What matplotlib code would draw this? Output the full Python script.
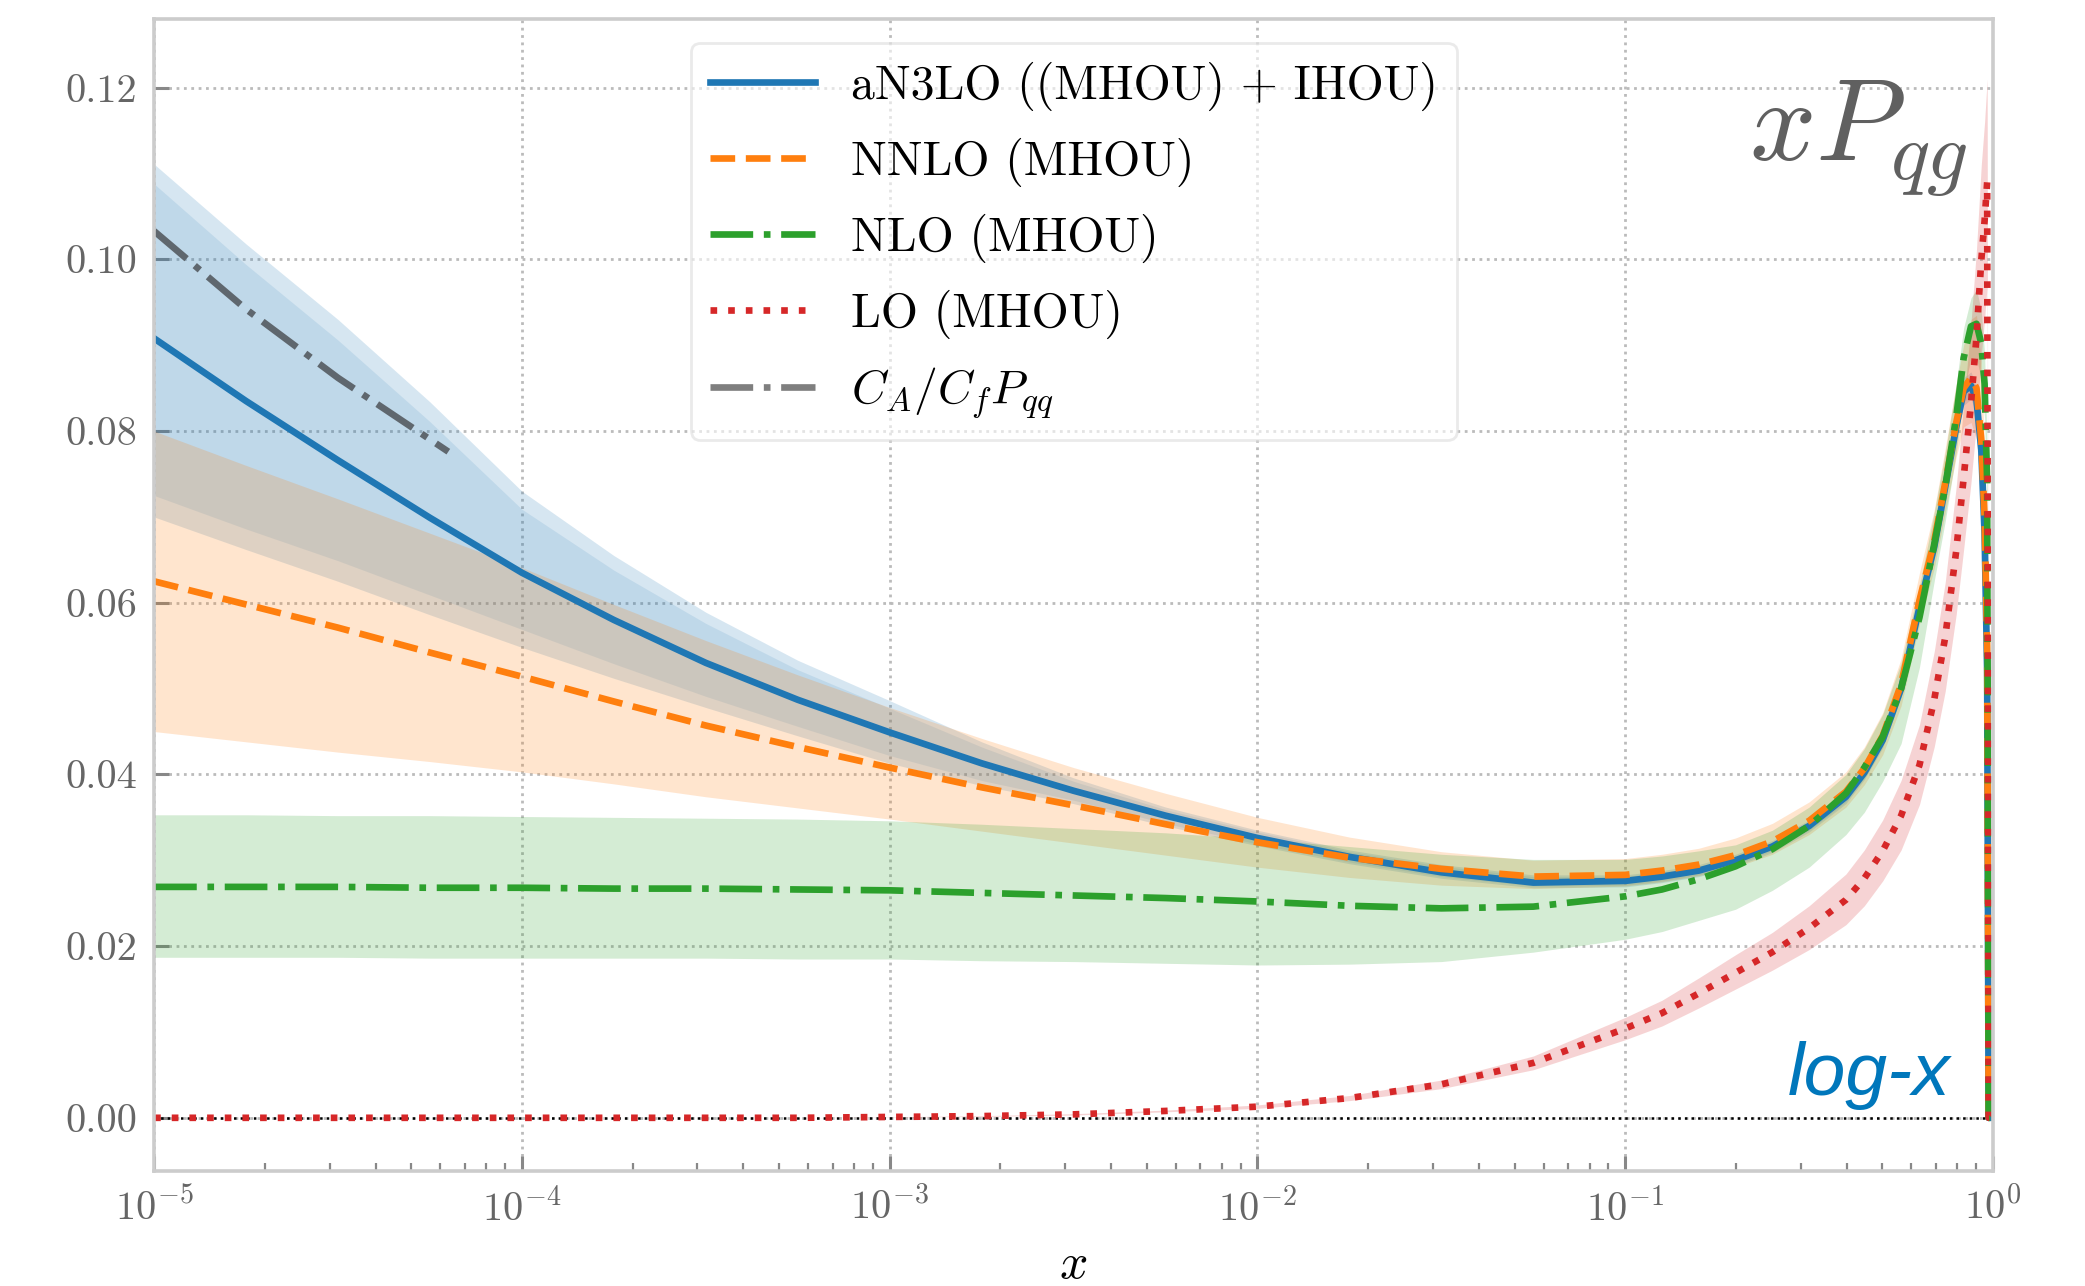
import numpy as np
import matplotlib
matplotlib.use("Agg")
import matplotlib.pyplot as plt
from matplotlib.lines import Line2D

plt.rcParams.update({
    "font.family": "serif",
    "font.serif": ["cmr10"],
    "mathtext.fontset": "cm",
    "axes.formatter.use_mathtext": True,
    "axes.unicode_minus": False,
})

# common grid, log10(x)
log_x = np.array([-5, -4.75, -4.5, -4.25, -4, -3.75, -3.5, -3.25, -3, -2.75, -2.5, -2.25,
                  -2, -1.75, -1.5, -1.25,
                  -1, -0.9, -0.8, -0.7, -0.6, -0.5, -0.4, -0.35, -0.3, -0.25, -0.2, -0.16,
                  -0.13, -0.1, -0.08, -0.06, -0.045, -0.032, -0.023, -0.016, -0.012, 0])

# aN3LO ((MHOU) + IHOU)
n3lo = [0.0908, 0.0835, 0.0766, 0.0699, 0.0635, 0.0580, 0.0530, 0.0487, 0.0449, 0.0413,
        0.0381, 0.0352, 0.0326, 0.0304, 0.0286, 0.0274,
        0.0276, 0.0281, 0.0288, 0.0300, 0.0316, 0.0340, 0.0374, 0.0402, 0.0440, 0.0500,
        0.0595, 0.0665, 0.0735, 0.0805, 0.0846, 0.0853, 0.0836, 0.0778, 0.0681, 0.0520,
        0.0, 0.0]
n3lo_up_out = [0.1111, 0.1018, 0.0930, 0.0834, 0.0730, 0.0655, 0.0589, 0.0533, 0.0486,
               0.0438, 0.0396, 0.0362, 0.0335, 0.0312, 0.0295, 0.0283,
               0.0283, 0.0288, 0.0295, 0.0307, 0.0323, 0.0347, 0.0382, 0.0410, 0.0449,
               0.0510, 0.0606, 0.0677, 0.0748, 0.0820, 0.0862, 0.0869, 0.0852, 0.0794,
               0.0697, 0.0536, 0.0, 0.0]
n3lo_lo_out = [0.0700, 0.0662, 0.0625, 0.0586, 0.0548, 0.0512, 0.0478, 0.0445, 0.0413,
               0.0387, 0.0366, 0.0340, 0.0317, 0.0296, 0.0279, 0.0268,
               0.0269, 0.0274, 0.0281, 0.0293, 0.0309, 0.0333, 0.0366, 0.0394, 0.0431,
               0.0490, 0.0584, 0.0653, 0.0722, 0.0790, 0.0830, 0.0837, 0.0820, 0.0762,
               0.0665, 0.0504, 0.0, 0.0]
n3lo_up_in = [0.1088, 0.0994, 0.0906, 0.0811, 0.0709, 0.0638, 0.0576, 0.0522, 0.0477,
              0.0432, 0.0392, 0.0359, 0.0333, 0.0310, 0.0293, 0.0281,
              0.0281, 0.0286, 0.0293, 0.0305, 0.0321, 0.0345, 0.0380, 0.0408, 0.0447,
              0.0507, 0.0603, 0.0674, 0.0745, 0.0816, 0.0858, 0.0865, 0.0848, 0.0790,
              0.0693, 0.0532, 0.0, 0.0]
n3lo_lo_in = [0.0725, 0.0686, 0.0649, 0.0609, 0.0569, 0.0529, 0.0491, 0.0456, 0.0422,
              0.0393, 0.0370, 0.0343, 0.0319, 0.0298, 0.0281, 0.0270,
              0.0271, 0.0276, 0.0283, 0.0295, 0.0311, 0.0335, 0.0368, 0.0396, 0.0433,
              0.0493, 0.0587, 0.0656, 0.0725, 0.0794, 0.0834, 0.0841, 0.0824, 0.0766,
              0.0669, 0.0508, 0.0, 0.0]

# NNLO (MHOU)
nnlo = [0.0625, 0.0598, 0.0571, 0.0542, 0.0514, 0.0485, 0.0457, 0.0432, 0.0408, 0.0385,
        0.0364, 0.0342, 0.0321, 0.0303, 0.0290, 0.0281,
        0.0283, 0.0288, 0.0295, 0.0306, 0.0322, 0.0346, 0.0380, 0.0407, 0.0445, 0.0505,
        0.0603, 0.0672, 0.0740, 0.0810, 0.0850, 0.0862, 0.0850, 0.0790, 0.0700, 0.0550,
        0.0, 0.0]
nnlo_up = [0.0800, 0.0760, 0.0721, 0.0681, 0.0641, 0.0598, 0.0556, 0.0516, 0.0478, 0.0442,
           0.0408, 0.0378, 0.0350, 0.0327, 0.0310, 0.0300,
           0.0302, 0.0307, 0.0314, 0.0326, 0.0343, 0.0368, 0.0403, 0.0432, 0.0472, 0.0535,
           0.0635, 0.0708, 0.0780, 0.0855, 0.0900, 0.0930, 0.0935, 0.0880, 0.0780, 0.0610,
           0.0, 0.0]
nnlo_lo = [0.0450, 0.0438, 0.0426, 0.0415, 0.0403, 0.0389, 0.0374, 0.0361, 0.0348, 0.0334,
           0.0320, 0.0306, 0.0292, 0.0280, 0.0271, 0.0267,
           0.0270, 0.0275, 0.0282, 0.0292, 0.0307, 0.0330, 0.0362, 0.0388, 0.0423, 0.0480,
           0.0575, 0.0640, 0.0705, 0.0770, 0.0805, 0.0810, 0.0790, 0.0720, 0.0630, 0.0500,
           0.0, 0.0]

# NLO (MHOU)
nlo = [0.0269, 0.0269, 0.0269, 0.0268, 0.0268, 0.0267, 0.0267, 0.0266, 0.0265, 0.0262,
       0.0259, 0.0256, 0.0252, 0.0247, 0.0244, 0.0246,
       0.0258, 0.0266, 0.0278, 0.0293, 0.0313, 0.0340, 0.0378, 0.0408, 0.0444, 0.0500,
       0.0583, 0.0668, 0.0735, 0.0817, 0.0885, 0.0922, 0.0925, 0.0902, 0.0855, 0.0740,
       0.0, 0.0]
nlo_up = [0.0353, 0.0353, 0.0352, 0.0352, 0.0351, 0.0350, 0.0349, 0.0348, 0.0346, 0.0342,
          0.0337, 0.0332, 0.0325, 0.0316, 0.0307, 0.0301,
          0.0301, 0.0305, 0.0311, 0.0318, 0.0335, 0.0362, 0.0400, 0.0430, 0.0470, 0.0530,
          0.0620, 0.0705, 0.0775, 0.0855, 0.0920, 0.0955, 0.0965, 0.0940, 0.0890, 0.0780,
          0.0, 0.0]
nlo_lo = [0.0187, 0.0187, 0.0187, 0.0186, 0.0186, 0.0186, 0.0186, 0.0185, 0.0185, 0.0183,
          0.0182, 0.0180, 0.0178, 0.0179, 0.0182, 0.0193,
          0.0208, 0.0217, 0.0230, 0.0243, 0.0265, 0.0292, 0.0330, 0.0356, 0.0392, 0.0436,
          0.0525, 0.0625, 0.0695, 0.0775, 0.0845, 0.0885, 0.0885, 0.0860, 0.0815, 0.0700,
          0.0, 0.0]

# LO (MHOU)
lo = [0.0, 0.0, 0.0, 0.0, 0.0, 0.0, 0.0, 0.0, 0.0001, 0.0002,
      0.0004, 0.0008, 0.0013, 0.0023, 0.0039, 0.0064,
      0.0104, 0.0122, 0.0145, 0.0169, 0.0193, 0.0221, 0.0254, 0.0279, 0.0311, 0.0352,
      0.0411, 0.0487, 0.0560, 0.0661, 0.0745, 0.0832, 0.0910, 0.0999, 0.1045, 0.1090,
      0.0, 0.0]
lo_up = [0.0, 0.0, 0.0, 0.0, 0.0, 0.0, 0.0, 0.0, 0.00012, 0.00025,
         0.00048, 0.0009, 0.0015, 0.0026, 0.0044, 0.0072,
         0.0117, 0.0137, 0.0163, 0.0190, 0.0216, 0.0247, 0.0284, 0.0312, 0.0347, 0.0393,
         0.0458, 0.0543, 0.0624, 0.0736, 0.0830, 0.0926, 0.1012, 0.1110, 0.1160, 0.1210,
         0.0, 0.0]
lo_lo = [0.0, 0.0, 0.0, 0.0, 0.0, 0.0, 0.0, 0.0, 0.00008, 0.00016,
         0.00032, 0.0007, 0.0011, 0.0020, 0.0034, 0.0056,
         0.0091, 0.0107, 0.0128, 0.0150, 0.0172, 0.0196, 0.0225, 0.0247, 0.0276, 0.0312,
         0.0365, 0.0432, 0.0497, 0.0587, 0.0662, 0.0740, 0.0810, 0.0888, 0.0930, 0.0970,
         0.0, 0.0]

# C_A/C_F P_qq (small-x only)
log_x_ca = np.array([-5, -4.75, -4.5, -4.2])
ca_pqq = [0.1033, 0.0942, 0.0862, 0.0776]

x = 10 ** log_x
x_ca = 10 ** log_x_ca

c_blue, c_orange, c_green, c_red = "#1f77b4", "#ff7f0e", "#2ca02c", "#d62728"
lw = 2.4

fig = plt.figure(figsize=(10.425, 6.43), dpi=200)
ax = fig.add_axes([0.0739, 0.0894, 0.8820, 0.8958])

ax.fill_between(x, n3lo_lo_out, n3lo_up_out, color=c_blue, alpha=0.18, lw=0)
ax.fill_between(x, n3lo_lo_in, n3lo_up_in, color=c_blue, alpha=0.12, lw=0)
ax.fill_between(x, nnlo_lo, nnlo_up, color=c_orange, alpha=0.2, lw=0)
ax.fill_between(x, nlo_lo, nlo_up, color=c_green, alpha=0.2, lw=0)
ax.fill_between(x, lo_lo, lo_up, color=c_red, alpha=0.2, lw=0)

ax.axhline(0, color="k", ls=":", lw=0.9, zorder=2)

ax.plot(x, n3lo, color=c_blue, lw=lw, ls="-")
ax.plot(x, nnlo, color=c_orange, lw=lw, ls="--")
ax.plot(x, nlo, color=c_green, lw=lw, ls="-.")
ax.plot(x_ca, ca_pqq, color="#5f676e", lw=lw, ls="-.")
ax.plot(x, lo, color=c_red, lw=lw, ls=":")

handles = [
    Line2D([], [], color=c_blue, lw=lw, ls="-"),
    Line2D([], [], color=c_orange, lw=lw, ls="--"),
    Line2D([], [], color=c_green, lw=lw, ls="-."),
    Line2D([], [], color=c_red, lw=lw, ls=":"),
    Line2D([], [], color="#7f7f7f", lw=lw, ls="-."),
]
labels = ["aN3LO ((MHOU) + IHOU)", "NNLO (MHOU)", "NLO (MHOU)", "LO (MHOU)",
          r"$C_A/C_f P_{qq}$"]
leg = ax.legend(handles, labels, loc="upper center", fontsize=17.2, framealpha=0.6,
                edgecolor="#dddddd", handlelength=2.2, handletextpad=0.75,
                labelspacing=0.56)

ax.set_xscale("log")
ax.set_xlim(1e-5, 1)
ax.set_ylim(-0.0062, 0.128)
yt = [0, 0.02, 0.04, 0.06, 0.08, 0.10, 0.12]
ax.set_yticks(yt)
ax.set_yticklabels(["%.2f" % v for v in yt])
ax.set_xlabel(r"$x$", fontsize=18, labelpad=5)

ax.tick_params(axis="both", which="both", direction="in", colors="#888888",
               labelcolor="#666666", labelsize=14.5, top=False, right=False)
ax.tick_params(axis="both", which="major", length=5.5, width=1.1, pad=6)
ax.tick_params(axis="x", which="minor", length=3, width=0.8)
ax.grid(True, which="major", ls=":", lw=1.0, color="#bbbbbb")
ax.set_axisbelow(True)
for s in ax.spines.values():
    s.set_color("#cccccc")
    s.set_linewidth(1.3)

ax.text(0.9864, 0.8776, r"$xP_{qg}$", transform=ax.transAxes, ha="right",
        va="baseline", fontsize=42, color="#606060")
ax.text(0.9766, 0.066, "log-x", transform=ax.transAxes, ha="right", va="baseline",
        fontsize=27, color="#0077bb", family="Liberation Sans", style="italic")

fig.savefig("out.png", dpi=200)
